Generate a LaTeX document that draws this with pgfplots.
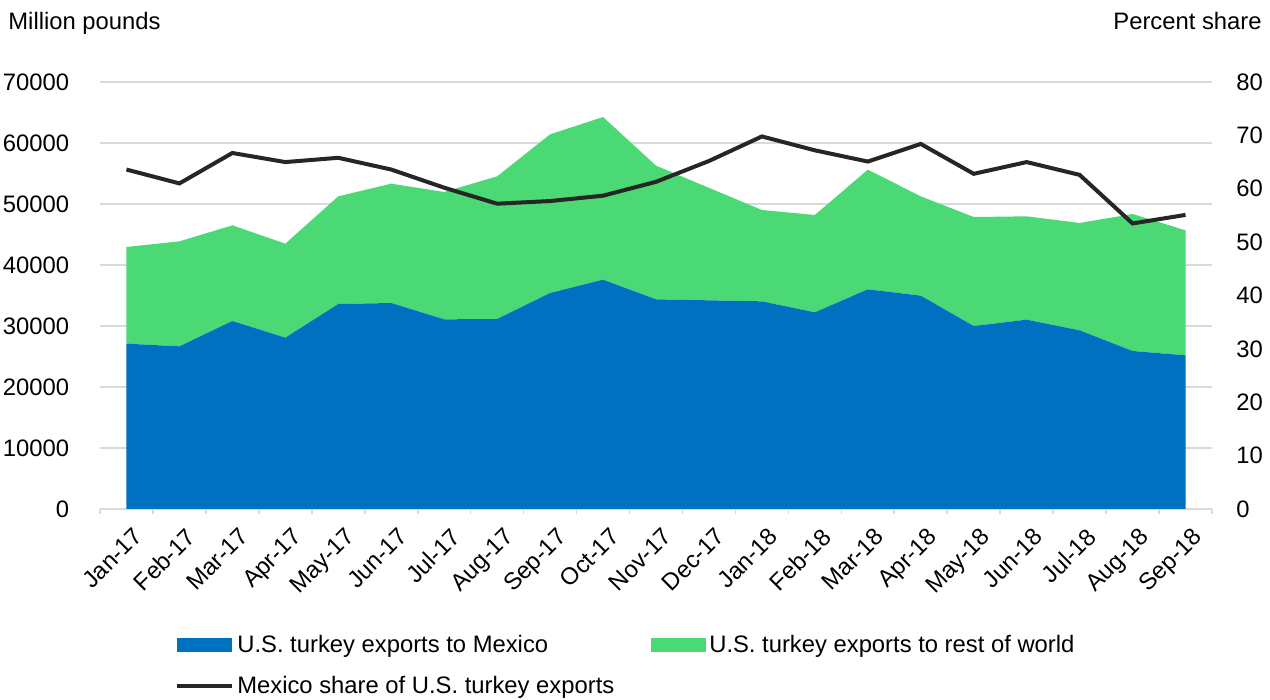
\documentclass[border=0pt]{standalone}
\usepackage{fontspec}
\setmainfont{Liberation Sans}
\usepackage{pgfplots}
\pgfplotsset{compat=1.18}

\definecolor{mexblue}{HTML}{0070C0}
\definecolor{rowgreen}{HTML}{4AD975}
\definecolor{shareline}{HTML}{262626}
\definecolor{gridgray}{HTML}{D9D9D9}

\pgfplotsset{
  boxlegend/.style={legend image code/.code={\fill[##1] (0pt,-3.5pt) rectangle (27.5pt,3.5pt);}},
  linelegend/.style={legend image code/.code={\draw[##1] (0pt,0pt) -- (27.5pt,0pt);}},
}

\begin{document}
\fontsize{11.9}{14}\selectfont
\begin{tikzpicture}
  \pgfplotsset{
    every axis/.append style={
      scale only axis,
      width=556pt, height=213.5pt,
      at={(0,0)}, anchor=south west,
      xmin=-0.5, xmax=20.5,
      /pgf/number format/assume math mode=true,
    },
  }
  % left axis: stacked areas
  \begin{axis}[
      ymin=0, ymax=70000,
      ytick={0,10000,...,70000},
      scaled y ticks=false,
      yticklabel={\pgfmathprintnumber[fixed,precision=0,1000 sep={}]{\tick}},
      ymajorgrids,
      grid style={gridgray, line width=0.8pt},
      axis x line*=bottom,
      axis y line*=left,
      y axis line style={draw=none},
      x axis line style={gridgray, line width=0.8pt},
      major y tick style={draw=none},
      xtick={0,...,20},
      xticklabels={Jan-17,Feb-17,Mar-17,Apr-17,May-17,Jun-17,Jul-17,Aug-17,Sep-17,Oct-17,Nov-17,Dec-17,Jan-18,Feb-18,Mar-18,Apr-18,May-18,Jun-18,Jul-18,Aug-18,Sep-18},
      major x tick style={draw=none},
      minor xtick={-0.5,0.5,...,20.5},
      minor x tick style={gridgray, line width=0.8pt},
      tick align=outside,
      minor tick length=2.5pt,
      xticklabel style={rotate=45, anchor=north east, inner sep=1pt, yshift=-4pt},
      yticklabel style={anchor=east, xshift=-7pt},
      stack plots=y,
      legend columns=2,
      legend cell align=left,
      legend style={draw=none, fill=none, at={(0.0674,-0.285)}, anchor=north west,
        /tikz/every even column/.append style={column sep=17pt},
        row sep=6pt, inner sep=0pt,
        nodes={inner xsep=1.5pt, inner ysep=2pt}},
    ]
    \addplot[fill=mexblue, draw=none, boxlegend] coordinates {
      (0,27104) (1,26667) (2,30820) (3,28087) (4,33607) (5,33770) (6,31093)
      (7,31148) (8,35410) (9,37596) (10,34372) (11,34208) (12,34044) (13,32240)
      (14,36011) (15,34973) (16,30000) (17,31038) (18,29290) (19,25902) (20,25191)
    } \closedcycle;
    \addlegendentry{U.S. turkey exports to Mexico}
    \addplot[fill=rowgreen, draw=none, boxlegend] coordinates {
      (0,15847) (1,17213) (2,15683) (3,15410) (4,17650) (5,19563) (6,20874)
      (7,23388) (8,26011) (9,26666) (10,21912) (11,18442) (12,14972) (13,15957)
      (14,19617) (15,16284) (16,17869) (17,16940) (18,17595) (19,22459) (20,20492)
    } \closedcycle;
    \addlegendentry{U.S. turkey exports to rest of world}
    \addlegendimage{shareline, line width=2pt, linelegend}
    \addlegendentry{Mexico share of U.S. turkey exports}
  \end{axis}
  % right axis: share line
  \begin{axis}[
      ymin=0, ymax=80,
      ytick={0,10,...,80},
      axis y line*=right,
      y axis line style={draw=none},
      major y tick style={draw=none},
      hide x axis,
      yticklabel style={anchor=west, xshift=8pt},
    ]
    \addplot[shareline, line width=2pt, mark=none] coordinates {
      (0,63.6) (1,61.0) (2,66.7) (3,65.0) (4,65.8) (5,63.6) (6,60.2)
      (7,57.2) (8,57.7) (9,58.7) (10,61.3) (11,65.2) (12,69.8) (13,67.2)
      (14,65.1) (15,68.4) (16,62.8) (17,65.0) (18,62.6) (19,53.5) (20,55.1)
    };
  \end{axis}
  \node[anchor=base west, inner sep=0pt] at (-46pt,239.5pt) {Million pounds};
  \node[anchor=base east, inner sep=0pt] at (581pt,239.5pt) {Percent share};
  \pgfresetboundingbox
  \path[use as bounding box] (-50pt,-95.5pt) rectangle (585pt,254.5pt);
\end{tikzpicture}
\end{document}
